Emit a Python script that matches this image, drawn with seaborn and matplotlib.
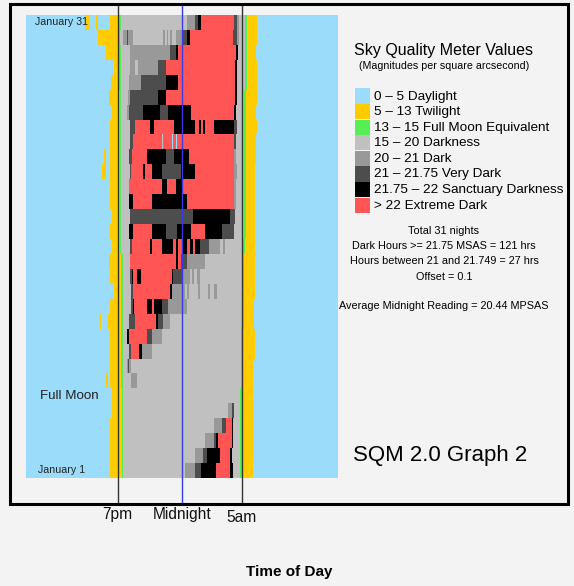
import numpy as np
import pandas as pd
import seaborn as sns
import matplotlib.pyplot as plt
from matplotlib.colors import ListedColormap
from matplotlib.patches import Rectangle

plt.rcParams['font.family'] = ['Liberation Sans', 'DejaVu Sans']

# sky quality classes
codes = ["D", "T", "M", "L", "G", "V", "K", "R"]
colors = ["#9cdcfb", "#ffcc00", "#55ee55", "#c0c0c0", "#999999", "#4d4d4d", "#000000", "#ff5555"]
labels = ["0 \u2013 5 Daylight", "5 \u2013 13 Twilight", "13 \u2013 15 Full Moon Equivalent",
          "15 \u2013 20 Darkness", "20 \u2013 21 Dark", "21 \u2013 21.75 Very Dark",
          "21.75 \u2013 22 Sanctuary Darkness", "> 22 Extreme Dark"]

# each night: (class, start) with clock hours, 24 = midnight, daylight before first entry
jan01 = [("T", 18.46), ("M", 19.36), ("L", 19.46), ("G", 24.23), ("V", 25.0), ("K", 25.44), ("R", 26.62), ("K", 27.69), ("L", 27.9), ("M", 28.5), ("T", 28.67), ("D", 29.45)]
jan02 = [("T", 18.46), ("M", 19.36), ("L", 19.46), ("G", 25.0), ("V", 25.64), ("K", 25.95), ("R", 26.92), ("K", 27.69), ("L", 27.82), ("M", 28.5), ("T", 28.67), ("D", 29.45)]
jan03 = [("T", 18.46), ("M", 19.36), ("L", 19.46), ("G", 25.77), ("V", 26.46), ("K", 26.62), ("R", 26.8), ("K", 27.82), ("L", 27.92), ("M", 28.5), ("T", 28.67), ("D", 29.5)]
jan04 = [("T", 18.46), ("M", 19.36), ("L", 19.46), ("G", 26.46), ("V", 27.05), ("R", 27.38), ("K", 27.82), ("L", 27.95), ("M", 28.5), ("T", 28.67), ("D", 29.5)]
jan05 = [("T", 18.65), ("M", 19.36), ("L", 19.46), ("G", 27.56), ("V", 27.85), ("L", 28.0), ("M", 28.5), ("T", 28.67), ("D", 29.5)]
jan06 = [("T", 18.59), ("M", 19.36), ("L", 19.46), ("M", 28.5), ("T", 28.67), ("D", 29.45)]
jan07 = [("T", 18.15), ("D", 18.3), ("T", 18.46), ("M", 19.31), ("L", 19.46), ("G", 20.05), ("L", 20.5), ("M", 28.55), ("T", 28.7), ("D", 29.45)]
jan08 = [("T", 18.46), ("M", 19.31), ("L", 19.46), ("G", 19.75), ("V", 19.85), ("G", 19.95), ("L", 20.1), ("M", 28.55), ("T", 28.7), ("D", 29.5)]
jan09 = [("T", 18.46), ("M", 19.31), ("L", 19.46), ("V", 19.95), ("R", 20.05), ("K", 20.72), ("G", 20.9), ("L", 21.67), ("M", 28.55), ("T", 28.7), ("D", 29.6)]
jan10 = [("T", 18.46), ("M", 19.31), ("L", 19.46), ("K", 19.8), ("R", 19.95), ("V", 21.33), ("G", 21.67), ("L", 22.44), ("M", 28.55), ("T", 28.7), ("D", 29.6)]
jan11 = [("T", 17.7), ("D", 17.8), ("T", 18.3), ("M", 19.31), ("L", 19.46), ("V", 19.95), ("R", 20.38), ("K", 22.0), ("V", 22.18), ("G", 22.5), ("L", 23.08), ("M", 28.6), ("T", 28.75), ("D", 29.55)]
jan12 = [("T", 18.46), ("M", 19.31), ("L", 19.46), ("V", 20.05), ("K", 20.2), ("R", 20.3), ("K", 21.28), ("R", 21.67), ("K", 21.85), ("V", 22.44), ("G", 22.95), ("L", 24.36), ("M", 28.6), ("T", 28.75), ("D", 29.55)]
jan13 = [("T", 18.77), ("M", 19.31), ("L", 19.46), ("V", 20.1), ("R", 20.26), ("K", 23.08), ("G", 23.2), ("L", 24.23), ("G", 24.36), ("L", 24.56), ("G", 25.26), ("L", 25.38), ("G", 26.03), ("L", 26.15), ("G", 26.46), ("L", 26.67), ("M", 28.6), ("T", 28.75), ("D", 29.6)]
jan14 = [("T", 18.46), ("M", 19.31), ("L", 19.46), ("V", 20.0), ("K", 20.15), ("R", 20.26), ("K", 20.51), ("R", 20.82), ("K", 23.2), ("V", 23.33), ("G", 23.97), ("L", 24.62), ("G", 24.74), ("L", 24.92), ("G", 25.13), ("L", 25.38), ("M", 28.6), ("T", 28.75), ("D", 29.65)]
jan15 = [("T", 18.41), ("M", 19.31), ("L", 19.46), ("R", 20.0), ("K", 23.54), ("R", 23.72), ("V", 23.92), ("G", 24.36), ("L", 25.77), ("M", 28.6), ("T", 28.75), ("D", 29.65)]
jan16 = [("T", 18.59), ("M", 19.2), ("L", 19.31), ("V", 20.0), ("R", 20.13), ("K", 21.54), ("R", 21.67), ("K", 22.44), ("R", 23.33), ("K", 23.54), ("R", 23.72), ("K", 24.0), ("R", 24.36), ("K", 24.62), ("R", 24.87), ("K", 25.0), ("V", 25.38), ("G", 26.1), ("L", 26.92), ("G", 27.18), ("L", 27.3), ("M", 28.7), ("T", 28.85), ("D", 29.6)]
jan17 = [("T", 18.46), ("M", 19.2), ("L", 19.31), ("K", 19.95), ("R", 20.26), ("K", 21.67), ("V", 22.77), ("K", 23.64), ("R", 24.67), ("K", 25.77), ("V", 27.05), ("L", 28.0), ("M", 28.75), ("T", 28.9), ("D", 29.6)]
jan18 = [("T", 18.59), ("M", 19.2), ("L", 19.31), ("V", 20.0), ("K", 24.85), ("V", 27.69), ("L", 28.1), ("M", 28.75), ("T", 28.9), ("D", 29.65)]
jan19 = [("T", 18.46), ("M", 19.2), ("L", 19.31), ("K", 19.95), ("R", 20.2), ("K", 21.67), ("R", 24.36), ("G", 28.0), ("L", 28.15), ("M", 28.75), ("T", 28.9), ("D", 29.65)]
jan20 = [("T", 18.46), ("M", 19.2), ("L", 19.31), ("R", 19.95), ("K", 22.44), ("R", 22.87), ("K", 23.54), ("R", 24.05), ("G", 28.0), ("L", 28.15), ("M", 28.75), ("T", 28.9), ("D", 29.65)]
jan21 = [("T", 17.82), ("D", 18.15), ("T", 18.46), ("M", 19.2), ("L", 19.31), ("V", 20.0), ("R", 20.1), ("K", 21.03), ("R", 21.15), ("K", 21.67), ("V", 22.44), ("K", 23.95), ("R", 25.0), ("G", 28.0), ("L", 28.2), ("M", 28.75), ("T", 28.9), ("D", 29.6)]
jan22 = [("T", 18.0), ("D", 18.15), ("T", 18.46), ("M", 19.2), ("L", 19.31), ("V", 19.95), ("R", 20.13), ("K", 21.33), ("V", 22.77), ("K", 23.38), ("R", 24.54), ("G", 28.0), ("L", 28.15), ("M", 28.75), ("T", 28.9), ("D", 29.7)]
jan23 = [("T", 18.46), ("M", 19.2), ("L", 19.31), ("V", 20.0), ("R", 20.2), ("L", 22.44), ("R", 22.56), ("D", 23.2), ("R", 23.33), ("D", 23.54), ("R", 23.64), ("V", 28.0), ("L", 28.15), ("M", 28.8), ("T", 28.95), ("D", 29.7)]
jan24 = [("T", 18.46), ("M", 19.2), ("L", 19.31), ("V", 20.0), ("R", 20.38), ("K", 21.54), ("R", 21.85), ("K", 23.39), ("R", 25.0), ("K", 25.31), ("R", 25.44), ("K", 25.59), ("R", 25.77), ("K", 26.46), ("V", 28.0), ("L", 28.25), ("M", 28.8), ("T", 28.95), ("D", 29.75)]
jan25 = [("T", 18.59), ("M", 19.2), ("L", 19.31), ("G", 19.8), ("V", 19.95), ("K", 21.03), ("V", 22.31), ("K", 22.9), ("R", 24.68), ("K", 28.0), ("L", 28.15), ("M", 28.8), ("T", 28.95), ("D", 29.7)]
jan26 = [("T", 18.41), ("M", 19.2), ("L", 19.31), ("G", 19.85), ("V", 20.0), ("K", 22.18), ("R", 22.77), ("K", 28.1), ("L", 28.2), ("M", 28.8), ("T", 28.95), ("D", 29.75)]
jan27 = [("T", 18.55), ("M", 19.1), ("L", 19.3), ("G", 19.92), ("V", 20.85), ("K", 22.74), ("R", 23.67), ("K", 28.08), ("L", 28.2), ("M", 28.85), ("T", 28.97), ("D", 29.75)]
jan28 = [("T", 18.77), ("M", 19.1), ("L", 19.3), ("G", 20.0), ("L", 20.38), ("G", 20.64), ("V", 22.18), ("R", 22.77), ("K", 28.05), ("L", 28.2), ("M", 28.85), ("T", 28.97), ("D", 29.75)]
jan29 = [("T", 18.15), ("M", 19.1), ("L", 19.3), ("G", 20.0), ("V", 23.08), ("K", 23.54), ("R", 23.72), ("K", 28.15), ("L", 28.28), ("M", 28.85), ("T", 28.97), ("D", 29.7)]
jan30 = [("T", 17.5), ("M", 19.1), ("L", 19.25), ("G", 19.49), ("V", 19.74), ("G", 19.87), ("L", 20.26), ("G", 22.57), ("L", 22.72), ("G", 22.82), ("L", 22.95), ("G", 23.08), ("L", 23.21), ("G", 23.54), ("V", 24.1), ("K", 24.36), ("R", 24.62), ("V", 27.95), ("G", 28.2), ("L", 28.4), ("M", 28.85), ("T", 28.97), ("D", 29.75)]
jan31 = [("T", 16.54), ("D", 16.92), ("T", 17.38), ("D", 17.54), ("T", 18.46), ("M", 19.1), ("L", 19.31), ("G", 24.36), ("V", 24.97), ("K", 25.23), ("R", 25.46), ("V", 28.0), ("G", 28.2), ("L", 28.38), ("M", 28.85), ("T", 28.97), ("D", 29.75)]

nights = [jan01, jan02, jan03, jan04, jan05, jan06, jan07, jan08, jan09, jan10,
          jan11, jan12, jan13, jan14, jan15, jan16, jan17, jan18, jan19, jan20,
          jan21, jan22, jan23, jan24, jan25, jan26, jan27, jan28, jan29, jan30, jan31]

# markers on the time axis
mark_times = [19.05, 24.0, 28.6]
mark_names = ["7pm", "Midnight", "5am"]
mark_colors = ["#333333", "#3a3ae0", "#333333"]

# one column per minute, noon to noon
grid = np.zeros((len(nights), 1440), dtype=int)
for i, night in enumerate(nights):
    for code, start in night:
        grid[i, int(round((start - 12) * 60)):] = codes.index(code)
df = pd.DataFrame(grid[::-1])

W, H = 574, 586
fig = plt.figure(figsize=(W / 100, H / 100), dpi=100, facecolor="#f3f3f3")
ax = fig.add_axes([26 / W, 1 - 478 / H, 312 / W, 463 / H])
sns.heatmap(df, ax=ax, cmap=ListedColormap(colors), vmin=-0.5, vmax=len(codes) - 0.5,
            cbar=False, xticklabels=False, yticklabels=False)
ax.set_xlabel("")
ax.set_ylabel("")

lab_y = [515, 514, 518]
for t, name, c, ly in zip(mark_times, mark_names, mark_colors, lab_y):
    x = (t - 12) * 60
    ax.axvline(x, ymin=-(503 - 478) / 463, ymax=1 + (15 - 5) / 463, color=c, lw=1, clip_on=False)
    ax.text(x, (478 - ly) / 463, name, transform=ax.get_xaxis_transform(),
            ha="center", va="center", fontsize=11.2, color="#111111")

def fx(x):
    return x / W

def fy(y):
    return 1 - y / H

# outer frame
fig.add_artist(Rectangle((fx(10), fy(504)), 558 / W, 500 / H, transform=fig.transFigure,
                         fill=False, lw=2.2, ec="black"))

fig.text(fx(289), fy(572), "Time of Day", ha="center", va="center", fontsize=11, fontweight="bold")

ax.text(0.03, 0.985, "January 31", transform=ax.transAxes, fontsize=7.7, va="center", color="#222222")
ax.text(0.04, 0.018, "January 1", transform=ax.transAxes, fontsize=7.7, va="center", color="#222222")
fig.text(fx(40), fy(396), "Full Moon", fontsize=9.6, va="center", color="#222222")

# legend
fig.text(fx(444), fy(50.5), "Sky Quality Meter Values", ha="center", va="center", fontsize=11.5)
fig.text(fx(444), fy(66), "(Magnitudes per square arcsecond)", ha="center", va="center", fontsize=7.7)
for k, (c, lab) in enumerate(zip(colors, labels)):
    top = 88.5 + k * 15.6
    fig.add_artist(Rectangle((fx(355), fy(top + 15)), 15 / W, 15 / H, transform=fig.transFigure,
                             fc=c, ec="none"))
    fig.text(fx(374), fy(top + 8), lab, va="center", fontsize=9.7)

notes = ["Total 31 nights", "Dark Hours >= 21.75 MSAS = 121 hrs",
         "Hours between 21 and 21.749 = 27 hrs", "Offset = 0.1"]
for k, s in enumerate(notes):
    fig.text(fx(444), fy(230.5 + k * 15.4), s, ha="center", va="center", fontsize=7.8)
fig.text(fx(444), fy(306), "Average Midnight Reading = 20.44 MPSAS", ha="center", va="center", fontsize=7.8)

fig.text(fx(440), fy(455), "SQM 2.0 Graph 2", ha="center", va="center", fontsize=16)

fig.savefig("out.png", dpi=100, facecolor=fig.get_facecolor())
